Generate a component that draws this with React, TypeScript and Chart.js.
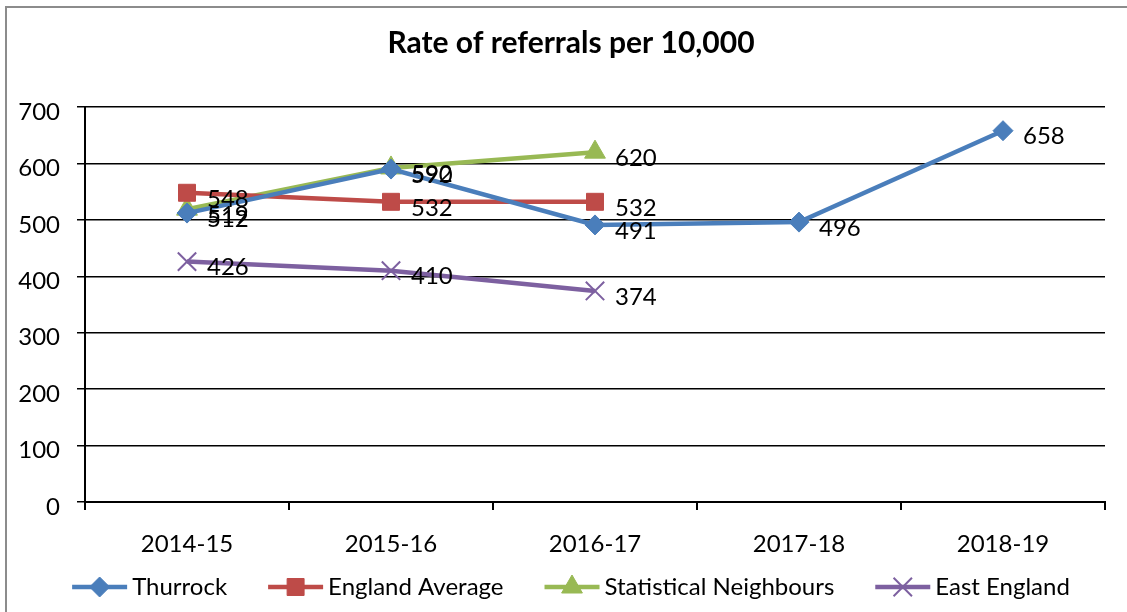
import React, { useEffect, useRef } from 'react';
import { Chart, registerables } from 'chart.js';
import { drawPoint } from 'chart.js/helpers';

Chart.register(...registerables);

const titleText = 'Rate of referrals per 10,000';
const categories = ['2014-15', '2015-16', '2016-17', '2017-18', '2018-19'];
const thurrock = [512, 590, 491, 496, 658];
const englandAverage = [548, 532, 532, null, null];
const statisticalNeighbours = [519, 592, 620, null, null];
const eastEngland = [426, 410, 374, null, null];
const seriesNames = ['Thurrock', 'England Average', 'Statistical Neighbours', 'East England'];
const seriesValues = [thurrock, englandAverage, statisticalNeighbours, eastEngland];
const seriesColors = ['#4a7ebb', '#be4b48', '#98b954', '#7d60a0'];
const markerStyles = ['rectRot', 'rect', 'triangle', 'crossRot'];
const markerRadii = [10, 12, 12, 13];
const yMin = 0;
const yMax = 700;
const yStep = 100;

const FONT = 'Lato, "Liberation Sans", sans-serif';

const customPlugin = {
  id: 'custom',
  beforeDraw(chart: any) {
    const ctx = chart.ctx;
    ctx.save();
    ctx.fillStyle = '#ffffff';
    ctx.fillRect(0, 0, chart.width, chart.height);
    ctx.strokeStyle = '#8c8c8c';
    ctx.lineWidth = 2;
    ctx.beginPath();
    ctx.moveTo(6, chart.height + 10);
    ctx.lineTo(6, 7);
    ctx.lineTo(chart.width + 10, 7);
    ctx.stroke();
    ctx.restore();
  },
  afterDatasetsDraw(chart: any) {
    const ctx = chart.ctx;
    ctx.save();
    ctx.font = `24px ${FONT}`;
    ctx.fillStyle = '#000';
    ctx.textAlign = 'left';
    ctx.textBaseline = 'middle';
    chart.data.datasets.forEach((ds: any, i: number) => {
      const meta = chart.getDatasetMeta(i);
      meta.data.forEach((pt: any, j: number) => {
        const v = ds.data[j];
        if (v === null || v === undefined) return;
        ctx.fillText(String(v), pt.x + 20, pt.y + 6);
      });
    });
    ctx.restore();
  },
  afterDraw(chart: any) {
    const ctx = chart.ctx;
    const centerX = 571;
    ctx.save();
    // title
    ctx.font = `bold 30px ${FONT}`;
    ctx.fillStyle = '#000';
    ctx.textAlign = 'center';
    ctx.textBaseline = 'middle';
    ctx.fillText(titleText, centerX, 43);
    // legend
    ctx.font = `24px ${FONT}`;
    const lineLen = 55;
    const textGap = 5;
    const itemGap = 41;
    const widths = seriesNames.map((n) => lineLen + textGap + ctx.measureText(n).width);
    const total = widths.reduce((a, b) => a + b, 0) + itemGap * (seriesNames.length - 1);
    let x = centerX - total / 2;
    const y = 587;
    seriesNames.forEach((name, i) => {
      ctx.strokeStyle = seriesColors[i];
      ctx.lineWidth = 4.5;
      ctx.beginPath();
      ctx.moveTo(x, y);
      ctx.lineTo(x + lineLen, y);
      ctx.stroke();
      ctx.fillStyle = seriesColors[i];
      ctx.strokeStyle = seriesColors[i];
      ctx.lineWidth = markerStyles[i] === 'crossRot' ? 2 : 1;
      drawPoint(ctx, { pointStyle: markerStyles[i] as any, radius: markerRadii[i], rotation: 0, borderWidth: ctx.lineWidth }, x + lineLen / 2, y);
      ctx.fillStyle = '#000';
      ctx.textAlign = 'left';
      ctx.textBaseline = 'middle';
      ctx.fillText(name, x + lineLen + textGap, y);
      x += widths[i] + itemGap;
    });
    ctx.restore();
  },
};

export default function App() {
  const canvasRef = useRef<HTMLCanvasElement | null>(null);

  useEffect(() => {
    document.body.style.margin = '0';
    const canvas = canvasRef.current;
    if (!canvas) return;
    const chart = new Chart(canvas, {
      type: 'line',
      data: {
        labels: categories,
        datasets: seriesValues.map((vals, i) => ({
          label: seriesNames[i],
          data: vals,
          borderColor: seriesColors[i],
          backgroundColor: seriesColors[i],
          borderWidth: 4.5,
          pointStyle: markerStyles[i] as any,
          pointRadius: markerRadii[i],
          pointBackgroundColor: seriesColors[i],
          pointBorderColor: seriesColors[i],
          pointBorderWidth: markerStyles[i] === 'crossRot' ? 2 : 1,
          tension: 0,
          fill: false,
          spanGaps: false,
        })),
      },
      options: {
        responsive: false,
        animation: false,
        events: [],
        layout: { padding: { top: 107, left: 0, right: 22, bottom: 50 } },
        plugins: {
          legend: { display: false },
          title: { display: false },
          tooltip: { enabled: false },
        },
        scales: {
          x: {
            type: 'category',
            offset: true,
            grid: {
              offset: true,
              drawOnChartArea: false,
              drawTicks: true,
              tickLength: 8,
              color: '#000',
              lineWidth: 2,
            },
            border: { color: '#000', width: 2 },
            ticks: {
              color: '#000',
              font: { family: FONT, size: 24 },
              padding: 20,
              maxRotation: 0,
              autoSkip: false,
            },
            afterFit: (s: any) => {
              s.height = 60;
            },
          },
          y: {
            min: yMin,
            max: yMax,
            ticks: {
              stepSize: yStep,
              color: '#000',
              font: { family: FONT, size: 24 },
              padding: 17,
              labelOffset: 5,
            },
            grid: {
              color: '#000',
              lineWidth: 1.5,
              tickLength: 8,
              drawTicks: true,
            },
            border: { color: '#000', width: 2 },
            afterFit: (s: any) => {
              s.width = 85;
            },
          },
        },
      },
      plugins: [customPlugin],
    });
    return () => chart.destroy();
  }, []);

  return (
    <div style={{ position: 'fixed', left: 0, top: 0, width: 1127, height: 612 }}>
      <canvas ref={canvasRef} width={1127} height={612} style={{ display: 'block' }} />
    </div>
  );
}
